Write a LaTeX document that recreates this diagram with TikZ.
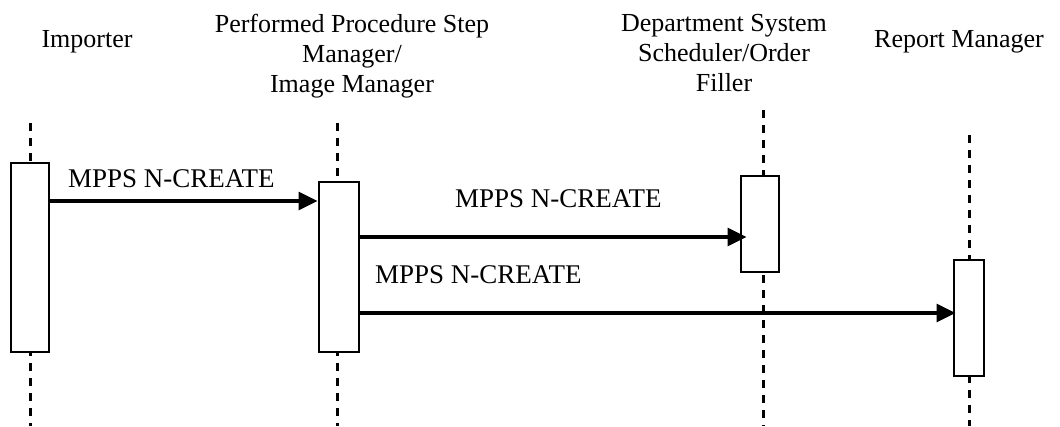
\documentclass[tikz,border=0pt]{standalone}
\usepackage{fontspec}
\setmainfont{Liberation Serif}
\usetikzlibrary{arrows.meta}
\begin{document}
\begin{tikzpicture}[x=1pt,y=-1pt,
  lbl/.style={font=\fontsize{26}{30}\selectfont, inner sep=0pt},
  msglbl/.style={font=\fontsize{27}{30}\selectfont, inner sep=0pt},
  actor/.style={lbl, align=center},
  bar/.style={draw, line width=2pt, fill=white, inner sep=0pt},
  life/.style={line width=3pt, dash pattern=on 8pt off 7pt},
  msg/.style={line width=3.3pt, -{Triangle[length=19pt,width=18pt]}}]
\useasboundingbox (0,0) rectangle (1060,426);
% actors
\node[actor, anchor=base] (hImp) at (87,47) {Importer};
\node[actor, anchor=north] (hPPS) at (352,14) {Performed Procedure Step\\Manager/\\Image Manager};
\node[actor, anchor=north] (hDSS) at (724,14) {Department System\\Scheduler/Order\\Filler};
\node[actor, anchor=base] (hRM) at (959,47) {Report Manager};
% lifelines
\coordinate (impT) at (30,123);   \coordinate (impB) at (30,426);
\coordinate (ppsT) at (337,123);  \coordinate (ppsB) at (337,426);
\coordinate (dssT) at (763,110);  \coordinate (dssB) at (763,426);
\coordinate (rmT)  at (969,135);  \coordinate (rmB)  at (969,426);
\draw[life] (impT) -- (impB);
\draw[life] (ppsT) -- (ppsB);
\draw[life] (dssT) -- (dssB);
\draw[life] (rmT) -- (rmB);
% activation bars
\node[bar, minimum width=38pt, minimum height=189pt] (imp) at (29.5,257) {};
\node[bar, minimum width=40pt, minimum height=170pt] (pps) at (338.5,266.5) {};
\node[bar, minimum width=38pt, minimum height=96pt] (dss) at (759.5,223.5) {};
\node[bar, minimum width=30pt, minimum height=116pt] (rm) at (968.5,317.5) {};
% messages
\draw[msg] (imp.east |- 0,201) -- (pps.west |- 0,201);
\draw[msg] (pps.east |- 0,237) -- ([xshift=7pt]dss.west |- 0,237);
\draw[msg] (pps.east |- 0,313) -- ([xshift=3pt]rm.west |- 0,313);
% labels
\node[msglbl, anchor=base west] (m1) at (68,187) {MPPS N-CREATE};
\node[msglbl, anchor=base west] (m2) at (455,207) {MPPS N-CREATE};
\node[msglbl, anchor=base west] (m3) at (375,283) {MPPS N-CREATE};
\end{tikzpicture}
\end{document}
